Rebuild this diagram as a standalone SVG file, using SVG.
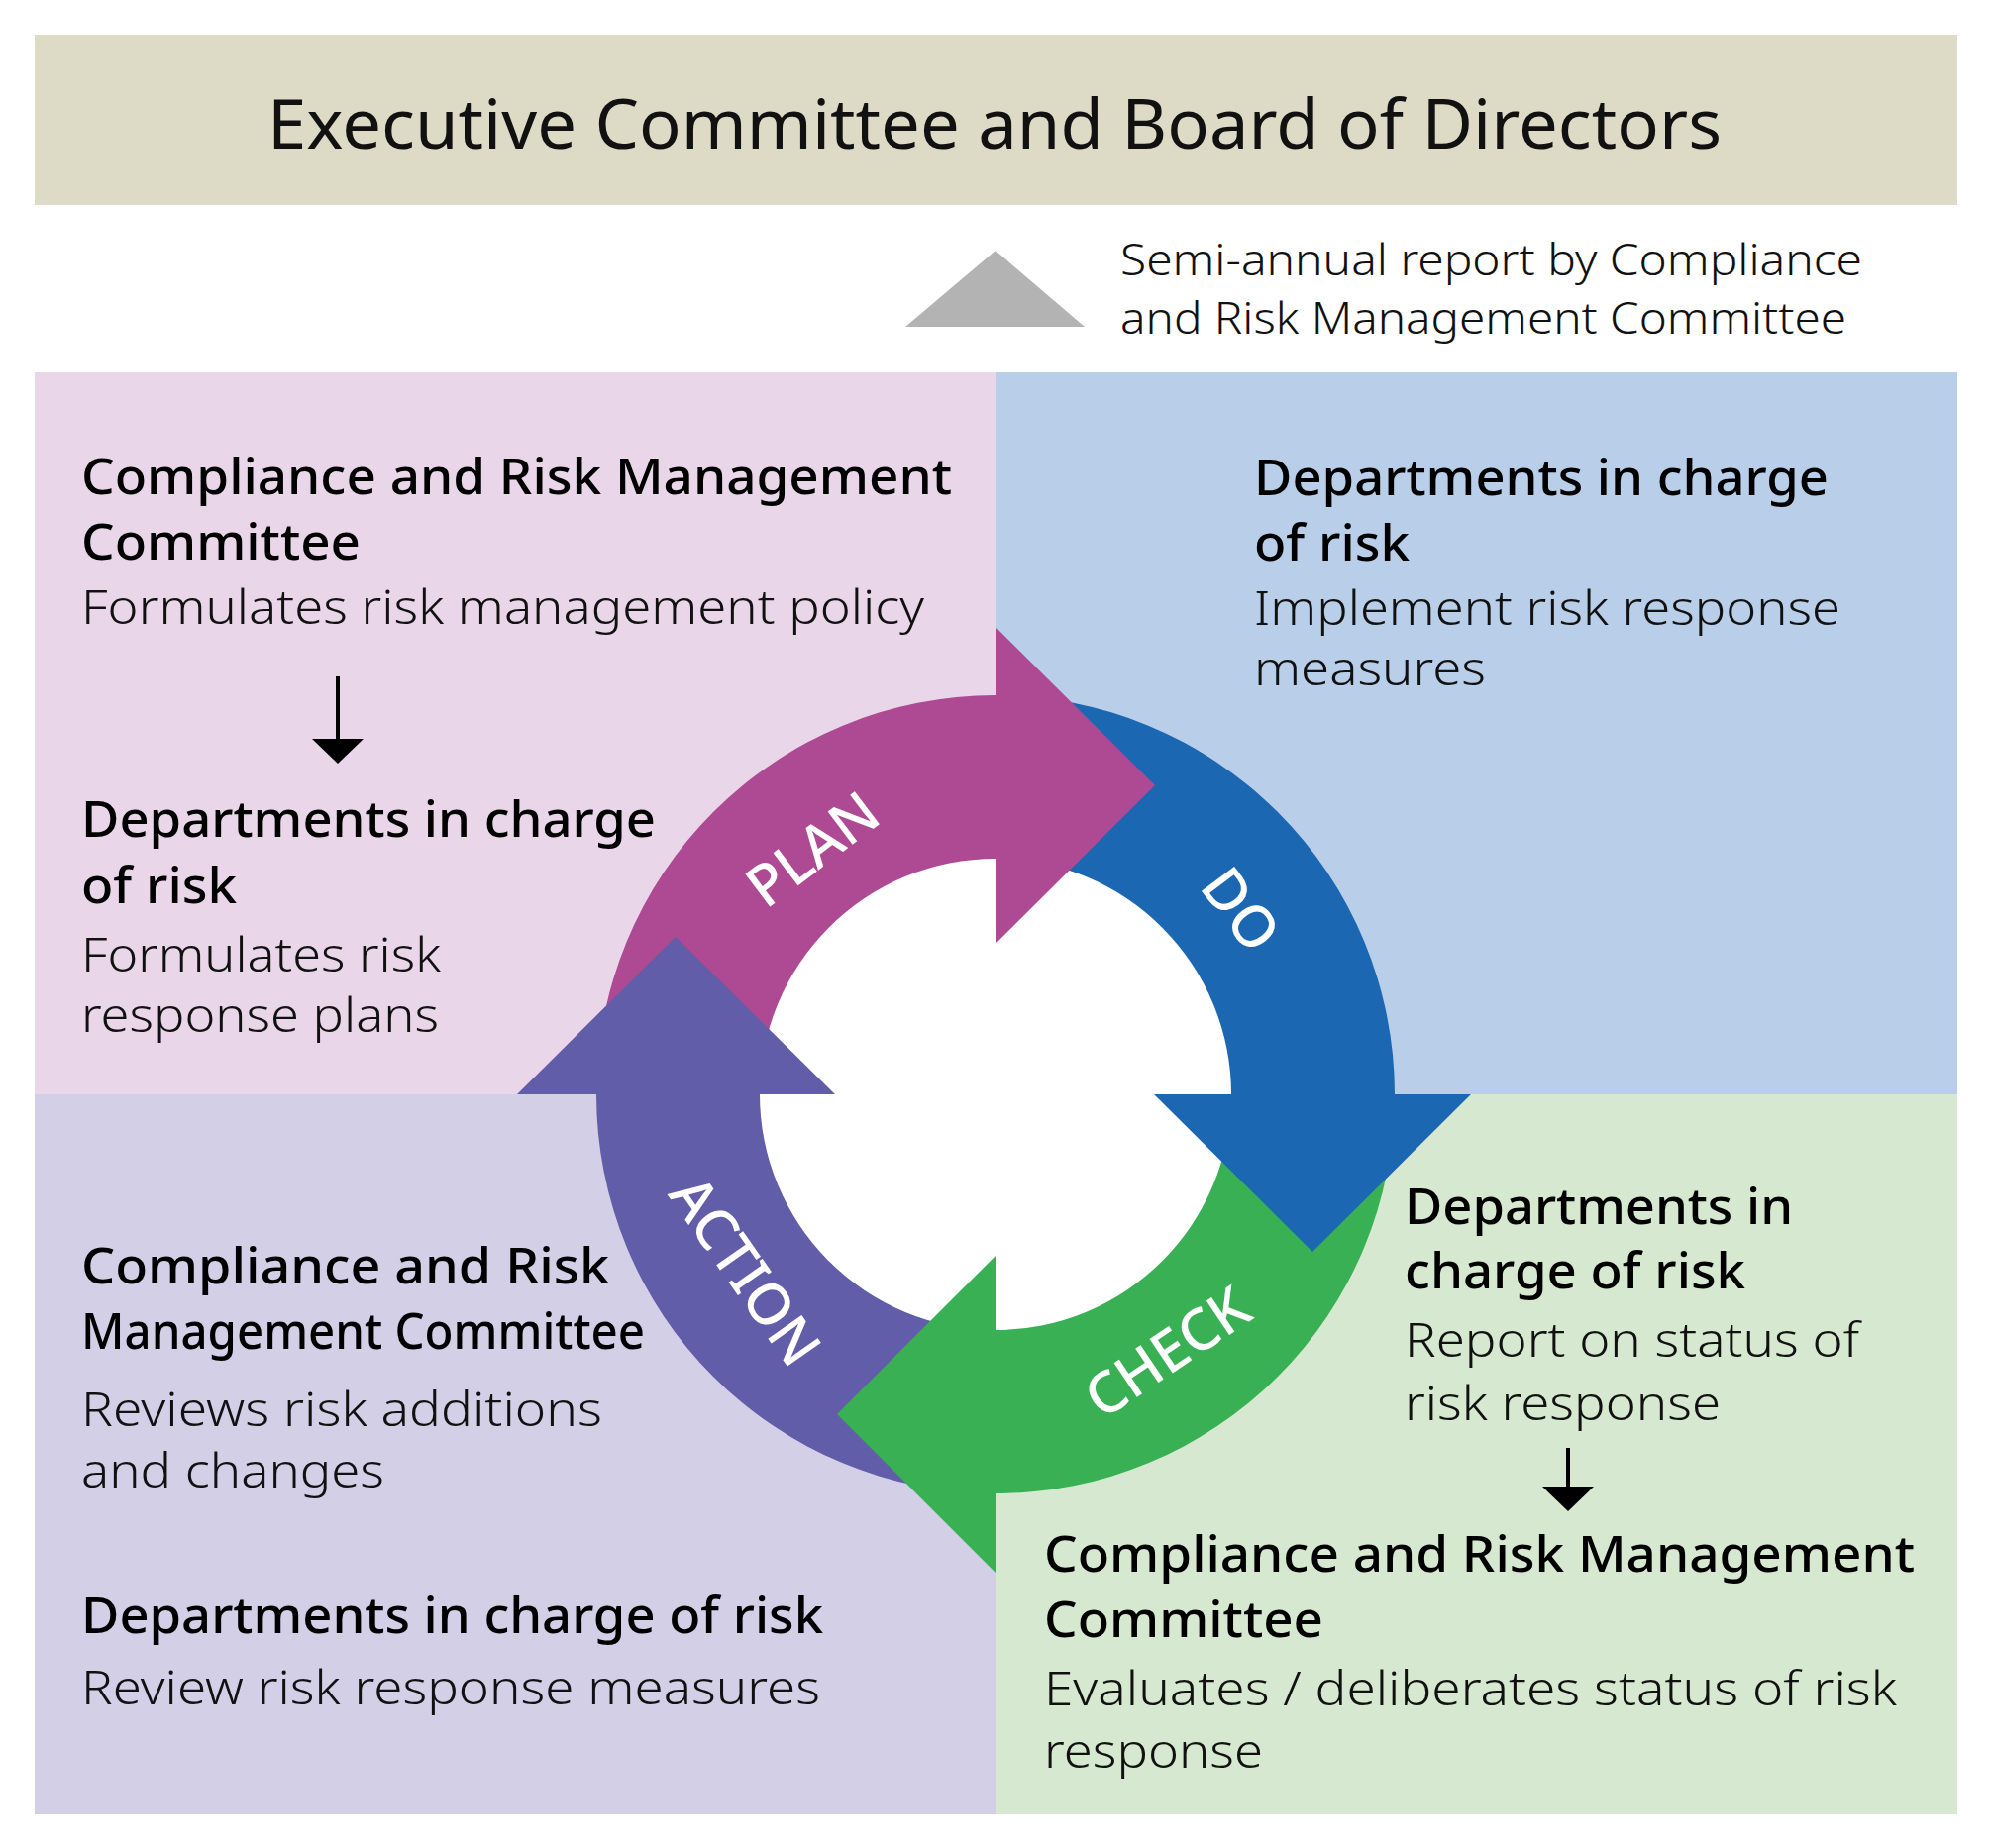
<svg xmlns="http://www.w3.org/2000/svg" width="2012" height="1866" viewBox="0 0 2012 1866">
  <style>
    text { font-family: "Noto Sans", "Liberation Sans", sans-serif; }
    .title { font-size: 70px; font-weight: 400; fill: #111; }
    .note { font-size: 44px; font-weight: 300; fill: #111; }
    .h { font-size: 51px; font-weight: 500; fill: #000; }
    .d { font-size: 48px; font-weight: 300; fill: #111; }
    .lbl { font-size: 58px; font-weight: 500; fill: #ffffff; }
    .flow { stroke: #000; stroke-width: 4; fill: none; }
  </style>
  <defs>
    <marker id="ah" viewBox="0 0 25 52" refX="1" refY="26" markerWidth="25" markerHeight="52" markerUnits="userSpaceOnUse" orient="auto">
      <path d="M0,0 L25,26 L0,52 Z" fill="#000"/>
    </marker>
  </defs>

  <rect width="2012" height="1866" fill="#ffffff"/>

  <g id="banner">
    <rect x="35" y="35" width="1941" height="172" fill="#DDDAC6"/>
    <text class="title" x="1004" y="150" text-anchor="middle" textLength="1468" lengthAdjust="spacingAndGlyphs">Executive Committee and Board of Directors</text>
  </g>

  <g id="report-note">
    <text class="note" x="1131" y="278" textLength="749" lengthAdjust="spacingAndGlyphs">Semi-annual report by Compliance</text>
    <text class="note" x="1131" y="337" textLength="733" lengthAdjust="spacingAndGlyphs">and Risk Management Committee</text>
  </g>

  <g id="quadrants">
    <rect id="q-plan" x="35" y="376" width="970" height="729" fill="#E9D6E9"/>
    <rect id="q-do" x="1005" y="376" width="971" height="729" fill="#B9CEE8"/>
    <rect id="q-action" x="35" y="1105" width="970" height="727" fill="#D2CFE7"/>
    <rect id="q-check" x="1005" y="1105" width="971" height="727" fill="#D6E8CF"/>
  </g>

  <g id="cycle">
    <circle cx="1005" cy="1105" r="240" fill="#ffffff"/>
    <path id="band-plan" d="M602,1105 A403,403 0 0 1 1005,702 L1005,867 A238,238 0 0 0 767,1105 Z" fill="#AE4A93"/>
    <path id="band-do" d="M1005,702 A403,403 0 0 1 1408,1105 L1243,1105 A238,238 0 0 0 1005,867 Z" fill="#1C67B2"/>
    <path id="band-check" d="M1408,1105 A403,403 0 0 1 1005,1508 L1005,1343 A238,238 0 0 0 1243,1105 Z" fill="#3AB054"/>
    <path id="band-action" d="M1005,1508 A403,403 0 0 1 602,1105 L767,1105 A238,238 0 0 0 1005,1343 Z" fill="#615DA8"/>
    <polygon id="head-plan" points="1005,633 1166,793 1005,953" fill="#AE4A93"/>
    <polygon id="head-do" points="1485,1105 1325,1264 1165,1105" fill="#1C67B2"/>
    <polygon id="head-check" points="1005,1268 845,1428 1005,1588" fill="#3AB054"/>
    <polygon id="head-action" points="522,1105 682,946 843,1105" fill="#615DA8"/>
    <text class="lbl" transform="translate(820,857) rotate(-37)" x="0" y="21" text-anchor="middle">PLAN</text>
    <text class="lbl" transform="translate(1253,918) rotate(53)" x="0" y="21" text-anchor="middle">DO</text>
    <text class="lbl" transform="translate(1178,1365) rotate(-34)" x="0" y="21" text-anchor="middle">CHECK</text>
    <text class="lbl" transform="translate(753,1283) rotate(55)" x="0" y="21" text-anchor="middle">ACTION</text>
  </g>

  <g id="node-plan">
    <text class="h" x="82" y="499" textLength="879" lengthAdjust="spacingAndGlyphs">Compliance and Risk Management</text>
    <text class="h" x="82" y="565" textLength="282" lengthAdjust="spacingAndGlyphs">Committee</text>
    <text class="d" x="82" y="630" textLength="851" lengthAdjust="spacingAndGlyphs">Formulates risk management policy</text>
    <text class="h" x="82" y="845" textLength="580" lengthAdjust="spacingAndGlyphs">Departments in charge</text>
    <text class="h" x="82" y="912" textLength="157" lengthAdjust="spacingAndGlyphs">of risk</text>
    <text class="d" x="82" y="981" textLength="363" lengthAdjust="spacingAndGlyphs">Formulates risk</text>
    <text class="d" x="82" y="1042" textLength="361" lengthAdjust="spacingAndGlyphs">response plans</text>
  </g>

  <g id="node-do">
    <text class="h" x="1266" y="500" textLength="580" lengthAdjust="spacingAndGlyphs">Departments in charge</text>
    <text class="h" x="1266" y="566" textLength="157" lengthAdjust="spacingAndGlyphs">of risk</text>
    <text class="d" x="1266" y="631" textLength="592" lengthAdjust="spacingAndGlyphs">Implement risk response</text>
    <text class="d" x="1266" y="692" textLength="234" lengthAdjust="spacingAndGlyphs">measures</text>
  </g>

  <g id="node-action">
    <text class="h" x="82" y="1296" textLength="533" lengthAdjust="spacingAndGlyphs">Compliance and Risk</text>
    <text class="h" x="82" y="1362" textLength="569" lengthAdjust="spacingAndGlyphs">Management Committee</text>
    <text class="d" x="82" y="1440" textLength="526" lengthAdjust="spacingAndGlyphs">Reviews risk additions</text>
    <text class="d" x="82" y="1502" textLength="306" lengthAdjust="spacingAndGlyphs">and changes</text>
    <text class="h" x="82" y="1649" textLength="749" lengthAdjust="spacingAndGlyphs">Departments in charge of risk</text>
    <text class="d" x="82" y="1721" textLength="746" lengthAdjust="spacingAndGlyphs">Review risk response measures</text>
  </g>

  <g id="node-check">
    <text class="h" x="1418" y="1236" textLength="392" lengthAdjust="spacingAndGlyphs">Departments in</text>
    <text class="h" x="1418" y="1301" textLength="344" lengthAdjust="spacingAndGlyphs">charge of risk</text>
    <text class="d" x="1418" y="1370" textLength="459" lengthAdjust="spacingAndGlyphs">Report on status of</text>
    <text class="d" x="1418" y="1434" textLength="319" lengthAdjust="spacingAndGlyphs">risk response</text>
    <text class="h" x="1054" y="1587" textLength="879" lengthAdjust="spacingAndGlyphs">Compliance and Risk Management</text>
    <text class="h" x="1054" y="1653" textLength="282" lengthAdjust="spacingAndGlyphs">Committee</text>
    <text class="d" x="1054" y="1722" textLength="861" lengthAdjust="spacingAndGlyphs">Evaluates / deliberates status of risk</text>
    <text class="d" x="1054" y="1785" textLength="221" lengthAdjust="spacingAndGlyphs">response</text>
  </g>

  <g id="connectors">
    <polygon id="report-arrow" points="1005,253 1095,330 914,330" fill="#B3B3B3"/>
    <line class="flow" x1="341" y1="683" x2="341" y2="747" marker-end="url(#ah)"/>
    <line class="flow" x1="1583" y1="1462" x2="1583" y2="1502" marker-end="url(#ah)"/>
  </g>
</svg>
